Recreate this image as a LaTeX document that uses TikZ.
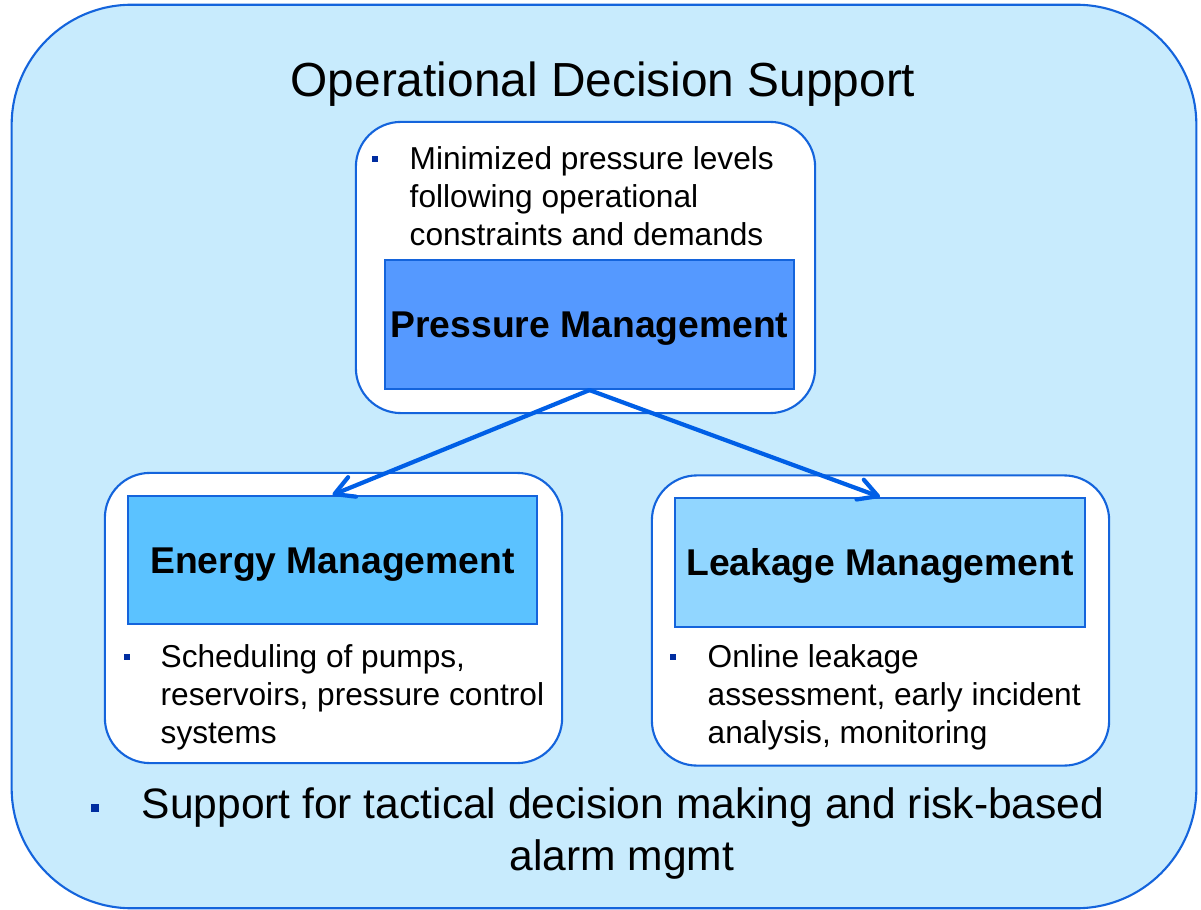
\documentclass[tikz,border=0pt]{standalone}
\usepackage{fontspec}
\setmainfont{Liberation Sans}
\usetikzlibrary{positioning,arrows.meta}

\definecolor{bgblue}{RGB}{200,235,253}
\definecolor{lineblue}{RGB}{20,100,220}
\definecolor{pmblue}{RGB}{85,153,255}
\definecolor{emblue}{RGB}{91,194,255}
\definecolor{lmblue}{RGB}{145,214,255}
\definecolor{bulletblue}{RGB}{0,45,160}
\definecolor{arrowblue}{RGB}{0,95,230}

\tikzset{
  panel/.style={draw=lineblue, line width=0.6pt, fill=white, rounded corners=0.45cm,
    minimum width=4.57cm, minimum height=2.9cm},
  core/.style={draw=lineblue, line width=0.6pt, inner sep=0pt, minimum width=4.09cm, minimum height=1.29cm,
    text height=0.266cm, text depth=0pt, font=\fontsize{10.6}{12.7}\selectfont\bfseries},
  note/.style={anchor=north west, inner sep=0pt, align=left,
    font=\fontsize{9}{10.8}\selectfont},
  dot/.style={fill=bulletblue, inner sep=0pt, minimum size=0.065cm},
  flow/.style={draw=arrowblue, line width=1.2pt, line cap=round,
    -{Straight Barb[length=1.9mm,width=2.1mm,round]}}
}

\begin{document}
\begin{tikzpicture}[x=0.01cm,y=-0.01cm]
\useasboundingbox (0,0) rectangle (1201,910);

% outer frame
\node[draw=lineblue, line width=0.6pt, fill=bgblue, rounded corners=1.2cm,
  minimum width=11.84cm, minimum height=9.03cm] (ods) at (604,456.5) {};
\node[anchor=base, font=\fontsize{13.6}{16}\selectfont] (title) at (603,97) {Operational Decision Support};

% pressure management
\node[panel, minimum width=4.59cm, minimum height=2.91cm] (pmbox) at (585.5,267.5) {};
\node[core, fill=pmblue] (pm) at (589.5,324.5) {Pressure Management};
\node[note] (pmtext) at (409,146) {Minimized pressure levels\\following operational\\constraints and demands};
\node[dot] (pmdot) at (375,159) {};

% energy management
\node[panel] (embox) at (333.5,618) {};
\node[core, fill=emblue, minimum height=1.28cm] (em) at (332.5,560) {Energy Management};
\node[note] (emtext) at (160,644) {Scheduling of pumps,\\reservoirs, pressure control\\systems};
\node[dot] (emdot) at (127,657) {};

% leakage management
\node[panel] (lmbox) at (880.5,620.5) {};
\node[core, fill=lmblue, minimum width=4.1cm] (lm) at (880,562.5) {Leakage Management};
\node[note] (lmtext) at (707,644) {Online leakage\\assessment, early incident\\analysis, monitoring};
\node[dot] (lmdot) at (673,657) {};

% bottom statement
\node[anchor=base, font=\fontsize{12.1}{14.8}\selectfont] (sup1) at (623,818) {Support for tactical decision making and risk-based};
\node[anchor=base, font=\fontsize{12.1}{14.8}\selectfont] (sup2) at (622,870) {alarm mgmt};
\node[dot, minimum size=0.085cm] (supdot) at (95,808) {};

\draw[flow] (pm.south) -- (em.north);
\draw[flow] (pm.south) -- (lm.north);
\end{tikzpicture}
\end{document}
